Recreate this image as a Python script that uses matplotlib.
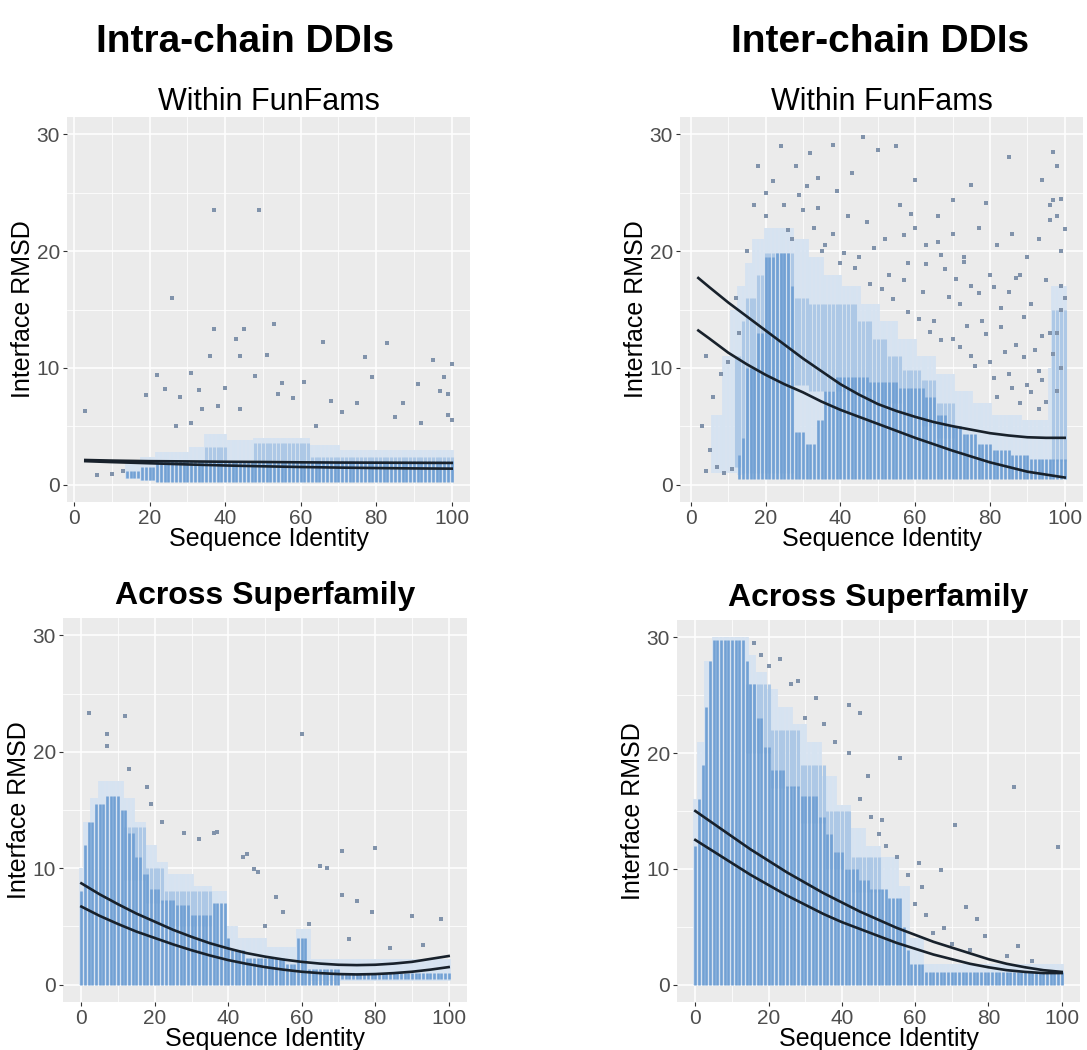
import numpy as np
import matplotlib
matplotlib.use("Agg")
import matplotlib.pyplot as plt
from matplotlib.ticker import MultipleLocator

plt.rcParams['font.family'] = ['Liberation Sans', 'DejaVu Sans']

# ---- data ----
# column runs: (first identity, last identity, low RMSD, high RMSD)
tl_light = [(14, 17, 0.5, 1.8), (18, 21, 0.3, 2.4), (22, 30, 0.2, 2.8), (31, 34, 0.2, 3.2), (35, 40, 0.2, 4.3),
            (41, 47, 0.2, 3.8), (48, 62, 0.2, 4.0), (63, 70, 0.2, 3.4), (71, 100, 0.2, 3.0)]
tl_mid = [(35, 40, 1.8, 3.2), (48, 62, 1.8, 3.6), (63, 100, 1.8, 2.4)]
tl_dense = [(14, 17, 0.6, 1.2), (18, 21, 0.4, 1.5), (22, 100, 0.2, 2.0)]
tl_out_x = [3, 37, 49, 26, 53, 37, 45, 66, 83, 43, 36, 44, 51, 77, 95, 100, 22, 31, 48, 79, 98, 61, 55, 19, 24,
            28, 33, 40, 54, 58, 68, 75, 87, 91, 97, 99, 100, 99, 71, 64, 85, 92, 27, 31, 34, 38, 44, 6, 10, 13]
tl_out_y = [6.3, 23.5, 23.5, 16.0, 13.8, 13.3, 13.3, 12.2, 12.1, 12.5, 11.0, 11.0, 11.1, 10.9, 10.7, 10.3, 9.4, 9.6,
            9.3, 9.2, 9.2, 8.8, 8.7, 7.7, 8.2, 7.5, 8.1, 8.3, 7.8, 7.4, 7.2, 7.0, 7.0, 8.6, 8.0, 7.8, 5.5, 6.0, 6.2,
            5.0, 5.8, 5.3, 5.0, 5.3, 6.5, 6.7, 6.5, 0.8, 0.9, 1.2]
tl_fit_x = [3, 10, 20, 30, 40, 50, 60, 70, 80, 90, 100]
tl_fit_hi = [2.1, 2.05, 2.0, 1.98, 1.95, 1.93, 1.9, 1.88, 1.87, 1.86, 1.85]
tl_fit_lo = [2.0, 1.92, 1.82, 1.72, 1.63, 1.56, 1.5, 1.45, 1.41, 1.38, 1.36]

tr_light = [(6, 8, 1, 6), (9, 10, 1, 11), (11, 12, 1, 15), (13, 14, 0.8, 17), (15, 16, 0.5, 19), (17, 19, 0.5, 21),
            (20, 27, 0.5, 22), (28, 31, 0.5, 21), (32, 35, 0.5, 19.5), (36, 40, 0.5, 18), (41, 45, 0.5, 17),
            (46, 50, 0.5, 15.5), (51, 55, 0.5, 14), (56, 60, 0.5, 12.5), (61, 65, 0.5, 11), (66, 70, 0.5, 9.5),
            (71, 75, 0.5, 8), (76, 80, 0.5, 7), (81, 88, 0.5, 6), (89, 95, 0.5, 5.5), (96, 96, 0.5, 10),
            (97, 100, 0.5, 17)]
tr_mid = [(12, 13, 1.5, 11), (14, 14, 1, 14), (15, 17, 1, 16), (18, 19, 1, 18), (20, 27, 1, 19.8), (28, 31, 8.5, 16),
          (32, 35, 8, 15.5), (36, 44, 8, 15.5), (45, 48, 8, 14), (49, 52, 7, 12.5), (53, 56, 7, 11), (57, 61, 6, 9.8),
          (62, 65, 5, 9), (66, 70, 4, 7), (97, 100, 2, 15)]
tr_dense = [(13, 13, 0.5, 2.5), (14, 14, 0.5, 4), (15, 17, 0.5, 10), (18, 19, 0.5, 13), (20, 22, 0.5, 19.5),
            (23, 26, 0.5, 19.8), (27, 27, 0.5, 17), (28, 30, 0.5, 4.5), (31, 33, 0.5, 3.5), (34, 35, 0.5, 5.5),
            (36, 38, 0.5, 8), (39, 47, 0.5, 9.2), (48, 55, 0.5, 8.8), (56, 62, 0.5, 8.3), (63, 65, 0.5, 7.5),
            (66, 68, 0.5, 6), (69, 72, 0.5, 5), (73, 76, 0.5, 4.3), (77, 80, 0.5, 3.5), (81, 85, 0.5, 3),
            (86, 90, 0.5, 2.5), (91, 100, 0.5, 2.2)]
tr_out_x = [18, 24, 32, 38, 46, 50, 55, 43, 60, 75, 85, 98, 94, 70, 79, 96, 97, 20, 28, 34,
            20, 25, 30, 33, 38, 42, 47, 52, 56, 60, 63, 66, 70, 73, 77, 82, 86, 90, 93, 99, 98, 58, 68, 75,
            80, 85, 88, 91, 95, 62, 72, 78, 83, 87, 92, 96, 65, 70, 75, 80, 85, 90, 94, 82, 88, 93, 57, 53,
            45, 40, 35, 27, 13, 12, 15, 17, 10, 8, 4, 6, 3, 5, 7, 9, 4, 11, 99, 99, 100, 98, 99, 98, 97, 99, 96,
            36, 41, 44, 48, 51, 54, 58, 61, 64, 67, 69, 72, 74, 76, 79, 81, 84, 86, 89, 91, 93, 95, 97, 31, 29,
            22, 26, 34, 39, 49, 57, 63, 67, 71, 77, 83, 89, 94, 100, 59, 66, 73, 81, 87]
tr_out_y = [27.3, 29.0, 28.4, 29.1, 29.8, 28.7, 29.0, 26.7, 26.1, 25.7, 28.1, 27.3, 26.1, 24.4, 24.1, 22.7, 24.4,
            25.0, 27.3, 26.3,
            23.0, 24.0, 23.5, 22.0, 21.5, 23.0, 22.5, 21.0, 24.0, 22.0, 20.5, 23.0, 21.5, 19.5, 22.0, 20.5, 21.5,
            19.5, 21.0, 20.0, 23.0, 19.0, 18.5, 17.0, 18.0, 16.5, 18.0, 15.5, 17.5, 16.5, 15.5, 14.0, 13.5, 12.0,
            11.5, 13.0, 14.0, 12.5, 11.0, 10.5, 9.5, 8.5, 9.0, 7.5, 7.0, 6.5, 17.5, 18.0, 19.5, 19.0, 20.0, 21.0,
            13.0, 16.0, 20.0, 24.0, 10.5, 9.5, 11.0, 7.5, 5.0, 3.0, 1.5, 1.0, 1.2, 1.3, 17.0, 15.0, 16.0, 13.0,
            10.0, 8.0, 28.5, 24.5, 24.0,
            20.5, 19.8, 18.6, 17.2, 16.8, 15.9, 14.8, 14.2, 13.1, 12.4, 16.1, 11.8, 13.6, 10.2, 12.9, 9.1, 11.4,
            8.3, 10.9, 7.9, 9.7, 7.1, 11.2, 25.6, 24.8, 26.0, 21.8, 23.7, 25.2, 20.3, 21.4, 18.9, 19.7, 17.6, 16.4,
            15.1, 14.4, 12.7, 21.9, 23.2, 20.8, 19.1, 16.9, 17.7]
tr_fit_x = [2, 5, 10, 15, 20, 25, 30, 35, 40, 45, 50, 55, 60, 65, 70, 75, 80, 85, 90, 95, 100]
tr_fit_hi = [17.7, 16.9, 15.6, 14.4, 13.2, 12.0, 10.8, 9.7, 8.6, 7.7, 6.9, 6.3, 5.8, 5.35, 5.0, 4.7, 4.4, 4.2,
             4.05, 4.0, 4.0]
tr_fit_lo = [13.2, 12.5, 11.3, 10.3, 9.4, 8.6, 7.9, 7.1, 6.4, 5.8, 5.2, 4.6, 4.0, 3.45, 2.9, 2.4, 1.9, 1.5, 1.1,
             0.85, 0.6]

bl_light = [(0, 0, 0, 10), (1, 2, 0, 14), (3, 4, 0, 16), (5, 11, 0, 17.5), (12, 14, 0, 16), (15, 17, 0, 14),
            (18, 20, 0, 12), (21, 23, 0, 10.5), (24, 30, 0, 9.5), (31, 35, 0, 8.5), (36, 39, 0, 8), (40, 42, 0, 5),
            (43, 50, 0, 4), (51, 58, 0, 3.2), (59, 62, 0, 4.8), (63, 100, 0.3, 2.2)]
bl_mid = [(12, 17, 9, 13.5), (18, 22, 7, 10), (23, 35, 5, 8)]
bl_dense = [(0, 0, 0, 8), (1, 1, 0, 12), (2, 3, 0, 14), (4, 6, 0, 15.5), (7, 10, 0, 16.2), (11, 12, 0, 15),
            (13, 14, 0, 13), (15, 16, 0, 11), (17, 18, 0, 9.5), (19, 21, 0, 8.2), (22, 25, 0, 7.3), (26, 29, 0, 6.8),
            (30, 35, 0, 6), (36, 39, 0, 7), (40, 40, 0, 4), (41, 44, 0, 3), (45, 55, 0, 2.3), (56, 58, 0, 1.8),
            (59, 61, 0, 4), (62, 70, 0, 1.3), (71, 100, 0.5, 1.0)]
bl_out_x = [2, 7, 12, 7, 60, 44, 71, 80, 48, 65, 75, 90, 98, 71, 37, 13, 18, 19, 22, 28, 32, 36, 45, 47, 53, 55,
            62, 67, 79, 93, 84, 50, 73]
bl_out_y = [23.3, 20.5, 23.1, 21.5, 21.5, 11.0, 11.5, 11.7, 9.7, 10.2, 7.2, 5.9, 5.6, 7.7, 13.1, 18.5, 17.0, 15.5,
            14.0, 13.0, 12.5, 13.0, 11.2, 9.9, 7.5, 6.2, 5.2, 10.0, 6.2, 3.4, 3.1, 5.0, 3.9]
bl_fit_x = [0, 5, 10, 15, 20, 25, 30, 35, 40, 45, 50, 55, 60, 65, 70, 75, 80, 85, 90, 95, 100]
bl_fit_hi = [8.7, 7.75, 6.9, 6.1, 5.4, 4.7, 4.1, 3.55, 3.1, 2.7, 2.4, 2.15, 1.95, 1.8, 1.7, 1.67, 1.7, 1.8, 1.95,
             2.2, 2.45]
bl_fit_lo = [6.7, 5.9, 5.2, 4.55, 4.0, 3.45, 2.95, 2.5, 2.1, 1.78, 1.5, 1.28, 1.1, 0.98, 0.9, 0.87, 0.9, 0.98, 1.1,
             1.28, 1.5]

br_light = [(0, 0, 0, 16), (1, 2, 0, 21), (3, 4, 0, 28), (5, 14, 0, 30), (15, 16, 0, 28.5), (17, 19, 0, 27),
            (20, 22, 0, 25.5), (23, 26, 0, 24), (27, 30, 0, 22.5), (31, 34, 0, 21), (35, 38, 0, 18), (39, 42, 0, 15.5),
            (43, 46, 0, 13.5), (47, 50, 0, 12), (51, 55, 0, 11), (56, 58, 0, 8.5), (59, 62, 0, 4), (63, 100, 0, 1.8)]
br_mid = [(14, 20, 20, 26), (21, 28, 17, 22), (29, 35, 14, 19), (36, 42, 10, 15), (43, 50, 8, 11)]
br_dense = [(0, 0, 0, 12), (1, 1, 0, 16), (2, 2, 0, 19), (3, 3, 0, 24), (4, 4, 0, 28), (5, 13, 0, 29.8),
            (14, 14, 0, 28), (15, 16, 0, 26), (17, 18, 0, 23), (19, 20, 0, 20.5), (21, 24, 0, 18.5), (25, 28, 0, 17.2),
            (29, 33, 0, 16.3), (34, 35, 0, 14.5), (36, 37, 0, 13), (38, 40, 0, 11.5), (41, 44, 0, 10), (45, 47, 0, 9),
            (48, 52, 0, 8.3), (53, 56, 0, 7.5), (57, 57, 0, 5), (58, 58, 0, 3), (59, 62, 0, 1.8), (63, 100, 0, 1.1)]
br_out_x = [42, 45, 56, 87, 71, 99, 74, 77, 62, 61, 51, 23, 28, 33, 67, 68, 79, 45, 48, 50, 52, 47, 42, 38, 35, 30,
            26, 20, 18, 16, 55, 58, 60, 63, 65, 70, 75, 85, 88, 92]
br_out_y = [24.2, 23.5, 19.6, 17.1, 13.8, 11.9, 6.7, 5.7, 8.4, 10.5, 14.2, 28.1, 26.2, 24.8, 9.9, 4.9, 4.2, 16.0,
            14.5, 13.0, 12.0, 18.0, 20.0, 21.0, 22.5, 23.0, 26.0, 27.5, 28.5, 29.5, 11.0, 9.5, 7.0, 6.0, 4.5, 3.5,
            3.0, 2.5, 3.3, 2.0]
br_fit_x = [0, 5, 10, 15, 20, 25, 30, 35, 40, 45, 50, 55, 60, 65, 70, 75, 80, 85, 90, 95, 100]
br_fit_hi = [15.0, 13.9, 12.8, 11.7, 10.7, 9.7, 8.8, 7.9, 7.1, 6.3, 5.6, 4.9, 4.3, 3.7, 3.2, 2.7, 2.2, 1.8, 1.5,
             1.25, 1.1]
br_fit_lo = [12.5, 11.5, 10.5, 9.5, 8.6, 7.7, 6.9, 6.1, 5.4, 4.8, 4.2, 3.6, 3.1, 2.6, 2.2, 1.8, 1.5, 1.25, 1.1,
             1.0, 1.0]

# ---- figure ----
W, H = 1087, 1050
fig = plt.figure(figsize=(W / 100, H / 100), dpi=100)


def px_axes(x0, y0, x1, y1):
    return fig.add_axes([x0 / W, 1 - y1 / H, (x1 - x0) / W, (y1 - y0) / H])


def draw_runs(ax, runs, color, lw):
    for s, e, lo, hi in runs:
        xs = np.arange(s, e + 1)
        ax.vlines(xs, lo, hi, colors=color, linewidth=lw, zorder=2)


def panel(ax, light, mid, dense, ox, oy, fx, fhi, flo, xlim, title, bold):
    ax.set_facecolor('#EBEBEB')
    for sp in ax.spines.values():
        sp.set_visible(False)
    draw_runs(ax, light, '#d6e3f1', 2.7)
    draw_runs(ax, mid, '#adc8e6', 2.2)
    draw_runs(ax, dense, '#72a1d4', 1.9)
    ax.scatter(ox, oy, s=5, marker='s', color='#8193ab', linewidths=0, zorder=3)
    ax.plot(fx, fhi, color='#18212b', lw=1.9, zorder=4)
    ax.plot(fx, flo, color='#18212b', lw=1.9, zorder=4)
    ax.set_xlim(*xlim)
    ax.set_ylim(-1.5, 31.5)
    ax.xaxis.set_major_locator(MultipleLocator(20))
    ax.xaxis.set_minor_locator(MultipleLocator(10))
    ax.yaxis.set_major_locator(MultipleLocator(10))
    ax.yaxis.set_minor_locator(MultipleLocator(5))
    ax.set_axisbelow(True)
    ax.grid(which='major', color='white', lw=1.1)
    ax.grid(which='minor', color='white', lw=0.55)
    ax.tick_params(which='major', length=3, width=0.8, color='#333333', labelsize=15,
                   labelcolor='#4D4D4D', pad=2)
    ax.tick_params(which='minor', length=0)
    ax.set_xlabel('Sequence Identity', fontsize=18, labelpad=-0.5)
    ax.set_ylabel('Interface RMSD', fontsize=18, labelpad=1)
    if bold:
        ax.set_title(title, fontsize=23, fontweight='bold', pad=10)
    else:
        ax.set_title(title, fontsize=22, pad=5)


ax1 = px_axes(67, 117, 470, 502)
panel(ax1, tl_light, tl_mid, tl_dense, tl_out_x, tl_out_y, tl_fit_x, tl_fit_hi, tl_fit_lo,
      (-1.85, 104.85), 'Within FunFams', False)
ax2 = px_axes(680, 117, 1083, 502)
panel(ax2, tr_light, tr_mid, tr_dense, tr_out_x, tr_out_y, tr_fit_x, tr_fit_hi, tr_fit_lo,
      (-2.9, 104.9), 'Within FunFams', False)
ax3 = px_axes(63, 618, 467, 1002)
panel(ax3, bl_light, bl_mid, bl_dense, bl_out_x, bl_out_y, bl_fit_x, bl_fit_hi, bl_fit_lo,
      (-5, 105), 'Across Superfamily', True)
ax4 = px_axes(677, 620, 1080, 1002)
panel(ax4, br_light, br_mid, br_dense, br_out_x, br_out_y, br_fit_x, br_fit_hi, br_fit_lo,
      (-5, 105), 'Across Superfamily', True)

fig.text(245 / W, 1 - 42 / H, 'Intra-chain DDIs', fontsize=28, fontweight='bold', ha='center', va='center')
fig.text(880 / W, 1 - 42 / H, 'Inter-chain DDIs', fontsize=28, fontweight='bold', ha='center', va='center')

fig.savefig('out.png', dpi=100, facecolor='white')
